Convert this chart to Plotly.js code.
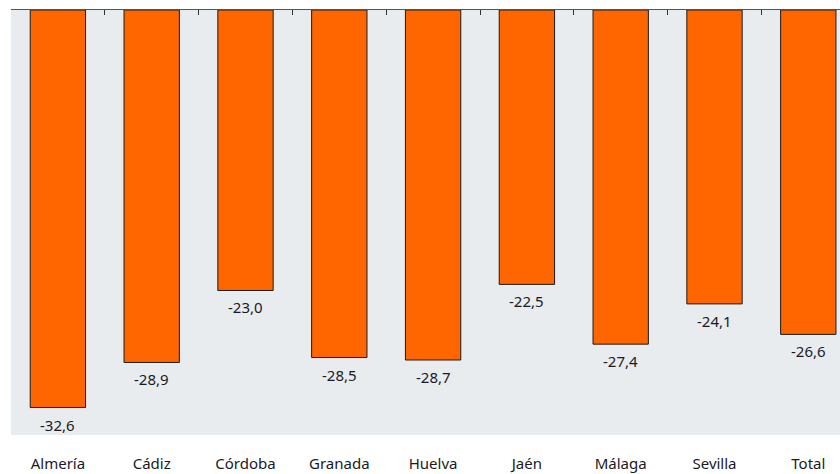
<!DOCTYPE html>
<html>
<head>
<meta charset="utf-8">
<script src="https://cdn.plot.ly/plotly-3.0.1.min.js"></script>
<style>html,body{margin:0;padding:0;background:#fff;}#chart{width:840px;height:474px;}</style>
</head>
<body>
<div id="chart"></div>
<script>
const categories = ["Almería", "Cádiz", "Córdoba", "Granada", "Huelva", "Jaén", "Málaga", "Sevilla", "Total"];
const values = [-32.6, -28.9, -23.0, -28.5, -28.7, -22.5, -27.4, -24.1, -26.6];

const fmt = v => v.toFixed(1).replace('.', ',');
const FONT = 'Noto Sans, DejaVu Sans, sans-serif';

const traces = [
  {
    type: 'bar',
    x: categories,
    y: values,
    width: 0.59,
    marker: {color: '#FF6600', line: {color: '#1a1a1a', width: 1}},
    hoverinfo: 'skip',
    showlegend: false
  },
  {
    type: 'bar',
    x: categories,
    y: categories.map(() => null),
    xaxis: 'x2',
    hoverinfo: 'skip',
    showlegend: false
  }
];

const annotations = categories.map((c, i) => ({
  x: c, y: values[i], xref: 'x', yref: 'y',
  text: fmt(values[i]),
  showarrow: false,
  yanchor: 'top',
  yshift: -5,
  font: {family: FONT, size: 15, color: '#1a1a24'}
}));

const layout = {
  width: 840, height: 474,
  margin: {l: 11, r: 0, t: 10, b: 39},
  paper_bgcolor: '#ffffff',
  plot_bgcolor: '#E9ECEF',
  showlegend: false,
  xaxis: {
    type: 'category',
    categoryarray: categories,
    range: [-0.5, 8.338],
    showline: false,
    showgrid: false,
    zeroline: false,
    ticks: 'outside',
    ticklen: 15,
    tickcolor: 'rgba(0,0,0,0)',
    tickfont: {family: FONT, size: 15, color: '#1a1a24'},
    fixedrange: true
  },
  xaxis2: {
    type: 'category',
    overlaying: 'x',
    matches: 'x',
    side: 'top',
    anchor: 'y',
    showline: true,
    linecolor: '#555555',
    linewidth: 1,
    ticks: 'inside',
    tickson: 'boundaries',
    ticklen: 5,
    tickwidth: 1,
    tickcolor: '#333333',
    showticklabels: false,
    showgrid: false,
    zeroline: false
  },
  yaxis: {
    range: [-34.85, 0],
    visible: false,
    showgrid: false,
    zeroline: false,
    fixedrange: true
  },
  annotations: annotations
};

Plotly.newPlot('chart', traces, layout, {staticPlot: true, displayModeBar: false});
</script>
</body>
</html>
